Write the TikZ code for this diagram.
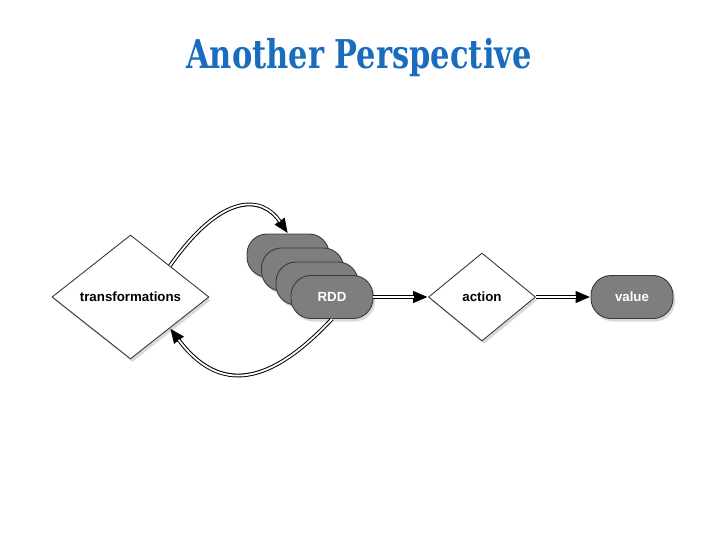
\documentclass[tikz,border=0pt]{standalone}
\usepackage{fontspec}
\setmainfont{Liberation Sans}
\newfontfamily\titlefont{DejaVu Serif}
\usetikzlibrary{arrows.meta,shapes.geometric,shadows}
\definecolor{titleblue}{HTML}{1A6DBE}
\definecolor{cardgray}{HTML}{7E7E7E}
\definecolor{cardedge}{HTML}{3A3A3A}
\tikzset{
  dia/.style={diamond, draw=cardedge, line width=0.9pt, fill=white, inner sep=0pt,
    drop shadow={opacity=0.3, shadow xshift=2pt, shadow yshift=-3pt},
    font=\bfseries\fontsize{13.3}{14}\selectfont},
  card/.style={rectangle, rounded corners=20pt, draw=cardedge, line width=0.9pt, fill=cardgray,
    minimum width=82pt, minimum height=43pt, inner sep=0pt, text=white,
    drop shadow={opacity=0.3, shadow xshift=2pt, shadow yshift=-3pt},
    font=\bfseries\fontsize{13.3}{14}\selectfont},
  dbl/.style={draw=black, line width=3.8pt, -{Triangle[length=15pt,width=11pt]},
    postaction={draw=white, line width=1.8pt, -, shorten >=14.5pt}},
}
\begin{document}
\begin{tikzpicture}[x=1pt,y=-1pt]
\useasboundingbox (0,0) rectangle (720,540);
\node[text=titleblue, font=\titlefont\bfseries\fontsize{30.5}{34}\selectfont] (title) at (359,58) {\scalebox{1}[1.3]{Another Perspective}};

\node[dia, minimum width=157pt, minimum height=124pt] (tr) at (130.5,297) {transformations};
\node[dia, minimum width=107pt, minimum height=88pt] (act) at (482,297) {action};

\node[card] (c1) at (288,255.5) {};
\node[card] (c2) at (302.5,269.5) {};
\node[card] (c3) at (317,283.5) {};
\node[card] (rdd) at (332,297) {RDD};
\node[card] (val) at (632,297) {value};

\draw[dbl] (rdd.east) -- (act.west);
\draw[dbl] (act.east) -- (val.west);
\draw[dbl] (tr.north east) .. controls (222,192) and (262,195) .. (c1.north);
\draw[dbl] (rdd.south) .. controls (270,385) and (220,395) .. (tr.south east);
\end{tikzpicture}
\end{document}
